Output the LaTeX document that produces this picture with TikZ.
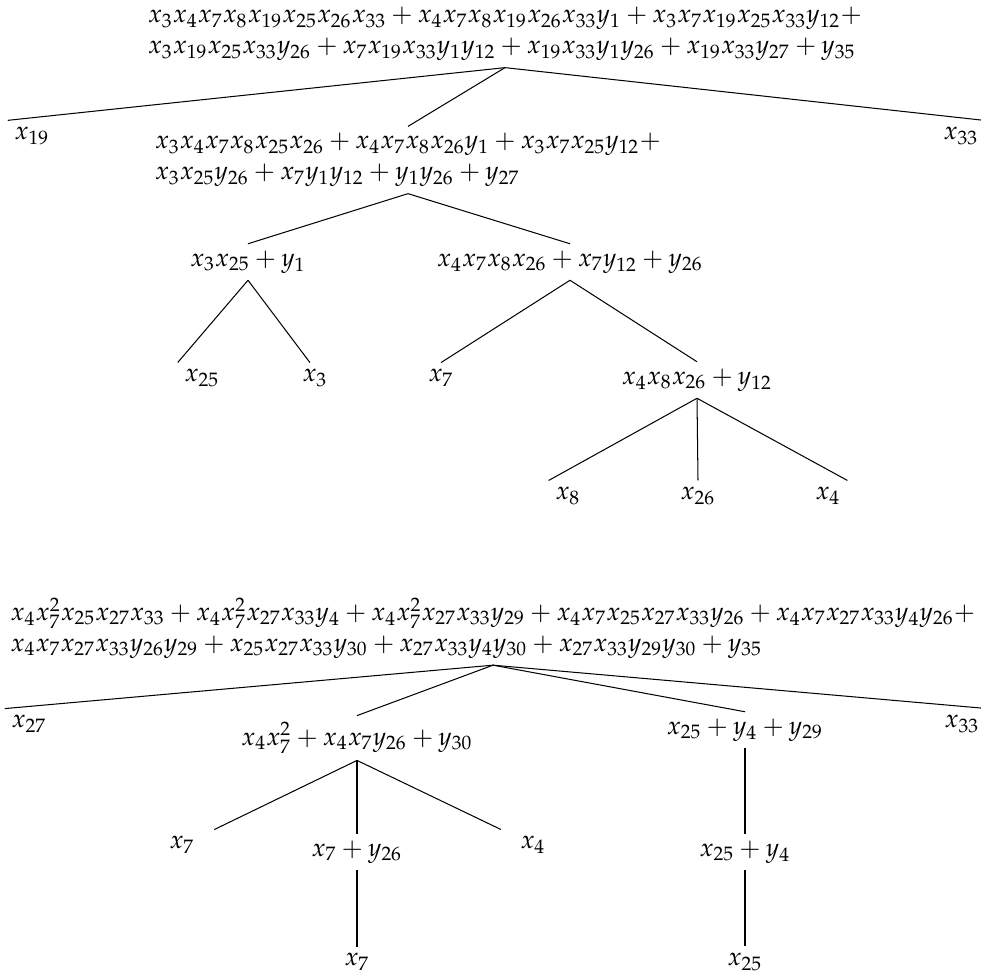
\documentclass[tikz,border=0pt]{standalone}
\usepackage{amsmath}
\usepackage{amssymb}
\usepackage{mathpazo}
\usepackage{tikz}

\begin{document}
\begin{tikzpicture}[x=0.39pt,y=0.39pt,yscale=-1,
  term/.style={inner sep=2.5pt},
  poly/.style={inner sep=2.5pt,align=left}]
\useasboundingbox (0,0) rectangle (981,976);

% Text Node: first tree
\node [poly] (r1) at (505,34) {$x_3x_4x_7x_8x_{19}x_{25}x_{26}x_{33}+x_4x_7x_8x_{19}x_{26}x_{33}y_1+x_3x_7x_{19}x_{25}x_{33}y_{12}+$\\$x_3x_{19}x_{25}x_{33}y_{26}+x_7x_{19}x_{33}y_1y_{12}+x_{19}x_{33}y_1y_{26}+x_{19}x_{33}y_{27}+y_{35}$};
\node [term] (a19) at (32,136) {$x_{19}$};
\node [term] (a33) at (961,136) {$x_{33}$};
\node [poly] (m1) at (408,160) {$x_3x_4x_7x_8x_{25}x_{26}+x_4x_7x_8x_{26}y_1+x_3x_7x_{25}y_{12}+$\\$x_3x_{25}y_{26}+x_7y_1y_{12}+y_1y_{26}+y_{27}$};
\node [term] (p1) at (248,262) {$x_3x_{25}+y_1$};
\node [term] (p2) at (570,262) {$x_4x_7x_8x_{26}+x_7y_{12}+y_{26}$};
\node [term] (a25) at (202,378) {$x_{25}$};
\node [term] (a3) at (315,378) {$x_3$};
\node [term] (a7) at (441,378) {$x_7$};
\node [term] (p3) at (697,380) {$x_4x_8x_{26}+y_{12}$};
\node [term] (a8) at (568,496) {$x_8$};
\node [term] (a26) at (698,496) {$x_{26}$};
\node [term] (a4) at (828,496) {$x_4$};

% Text Node: second tree
\node [poly] (r2) at (493,628) {$x_4x_7^2x_{25}x_{27}x_{33}+x_4x_7^2x_{27}x_{33}y_4+x_4x_7^2x_{27}x_{33}y_{29}+x_4x_7x_{25}x_{27}x_{33}y_{26}+x_4x_7x_{27}x_{33}y_4y_{26}+$\\$x_4x_7x_{27}x_{33}y_{26}y_{29}+x_{25}x_{27}x_{33}y_{30}+x_{27}x_{33}y_4y_{30}+x_{27}x_{33}y_{29}y_{30}+y_{35}$};
\node [term] (b27) at (29,724) {$x_{27}$};
\node [term] (b33) at (962,724) {$x_{33}$};
\node [term] (q1) at (357,738) {$x_4x_7^2+x_4x_7y_{26}+y_{30}$};
\node [term] (q2) at (745,730) {$x_{25}+y_4+y_{29}$};
\node [term] (b7) at (182,845) {$x_7$};
\node [term] (q3) at (357,852) {$x_7+y_{26}$};
\node [term] (b4) at (533,845) {$x_4$};
\node [term] (q4) at (745,852) {$x_{25}+y_4$};
\node [term] (c7) at (357,962) {$x_7$};
\node [term] (c25) at (745,962) {$x_{25}$};

%Straight Lines
\draw (r1.south) -- (a19.north west);
\draw (r1.south) -- (a33.north east);
\draw (r1.south) -- (m1.north);
\draw (m1.south) -- (p1.north);
\draw (m1.south) -- (p2.north);
\draw (p1.south) -- (a25.north west);
\draw (p1.south) -- ([xshift=-2pt]a3.north);
\draw (p2.south) -- (a7.north);
\draw (p2.south) -- (p3.north);
\draw (p3.south) -- (a8.north west);
\draw (p3.south) -- (a26.north);
\draw (p3.south) -- (a4.north east);

\draw (r2.south) -- (b27.north west);
\draw (r2.south) -- (b33.north east);
\draw (r2.south) -- (q1.north);
\draw (r2.south) -- (q2.north);
\draw (q1.south) -- ([xshift=5pt]b7.north east);
\draw (q1.south) -- (q3.north);
\draw (q1.south) -- ([xshift=-5pt]b4.north west);
\draw (q3.south) -- (c7.north);
\draw (q2.south) -- (q4.north);
\draw (q4.south) -- (c25.north);

\end{tikzpicture}
\end{document}
